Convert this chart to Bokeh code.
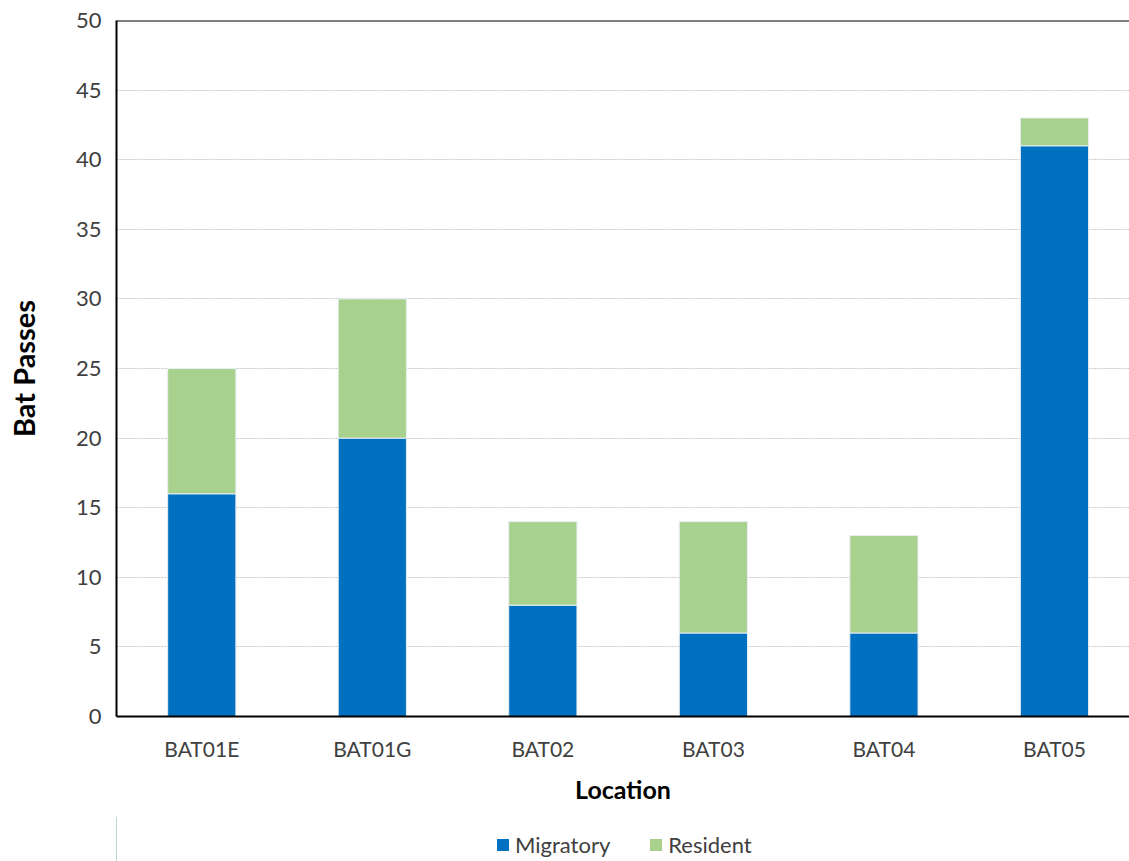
from bokeh.plotting import figure
from bokeh.layouts import column
from bokeh.models import Range1d, FixedTicker, Span, Legend, LegendItem
from bokeh.embed import file_html
from bokeh.resources import INLINE

# Bat passes recorded per survey location, split by guild
locations = ["BAT01E", "BAT01G", "BAT02", "BAT03", "BAT04", "BAT05"]
migratory = [16, 20, 8, 6, 6, 41]
resident = [9, 10, 6, 8, 7, 2]
series = ["Migratory", "Resident"]
y_ticks = [0, 5, 10, 15, 20, 25, 30, 35, 40, 45, 50]

BLUE = "#0070C0"
GREEN = "#A9D18E"
FONT = "Lato"
TEXT = "#404040"

x_pos = [i + 0.5 for i in range(len(locations))]
data = dict(x=x_pos, Migratory=migratory, Resident=resident)

p = figure(
    frame_width=1013, frame_height=696,
    x_range=Range1d(0, 5.94), y_range=Range1d(0, 50),
    output_backend="svg", toolbar_location=None,
    min_border_left=116, min_border_top=20, min_border_right=0,
    min_border_bottom=100,
)
p.outline_line_color = None

p.vbar_stack(
    series, x="x", width=0.4, source=data,
    color=[BLUE, GREEN], line_color="#e8eef4", line_width=1,
)

# x axis: one tick per location
p.xaxis.ticker = FixedTicker(ticks=x_pos)
p.xaxis.major_label_overrides = {x: name for x, name in zip(x_pos, locations)}
p.xaxis.axis_label = "Location"
p.xaxis.axis_label_standoff = 10
p.xaxis.major_label_standoff = 13

# y axis
p.yaxis.ticker = FixedTicker(ticks=y_ticks)
p.yaxis.axis_label = "Bat Passes"
p.yaxis.axis_label_standoff = 32
p.yaxis.major_label_standoff = 9

for ax in (p.xaxis, p.yaxis):
    ax.axis_line_color = "black"
    ax.axis_line_width = 2
    ax.major_tick_line_color = None
    ax.minor_tick_line_color = None
    ax.major_label_text_font = FONT
    ax.major_label_text_color = TEXT
    ax.axis_label_text_font = FONT
    ax.axis_label_text_font_style = "bold"
    ax.axis_label_text_color = "black"

p.xaxis.major_label_text_font_size = "21px"
p.yaxis.major_label_text_font_size = "22px"
p.xaxis.axis_label_text_font_size = "25px"
p.yaxis.axis_label_text_font_size = "29px"

p.xgrid.grid_line_color = None
p.ygrid.grid_line_color = "#c8c8c8"
p.ygrid.grid_line_dash = "2 1"
p.ygrid.grid_line_width = 1

# top border line at the axis maximum
p.add_layout(Span(location=50, dimension="width", line_color="black", line_width=2))

# legend strip under the chart; its key renderers sit outside the visible range
lg = figure(
    width=1129, height=45, x_range=Range1d(0, 1), y_range=Range1d(0, 1),
    output_backend="svg", toolbar_location=None, min_border=0,
)
lg.axis.visible = False
lg.grid.visible = False
lg.outline_line_color = None
lg.background_fill_color = None
lg.border_fill_color = None
keys = [
    lg.vbar(x=[-5], top=[1], width=0.4, fill_color=c, line_color=None)
    for c in (BLUE, GREEN)
]
legend = Legend(
    items=[LegendItem(label=name, renderers=[r]) for name, r in zip(series, keys)],
    orientation="horizontal", location=(379, 3),
    glyph_width=15, glyph_height=15, label_standoff=5, spacing=38,
    label_text_font=FONT, label_text_font_size="22px", label_text_color=TEXT,
    border_line_color=None, background_fill_alpha=0, padding=0, margin=0,
)
lg.add_layout(legend)

open("out.html", "w").write(file_html(column(p, lg, spacing=0), INLINE))
